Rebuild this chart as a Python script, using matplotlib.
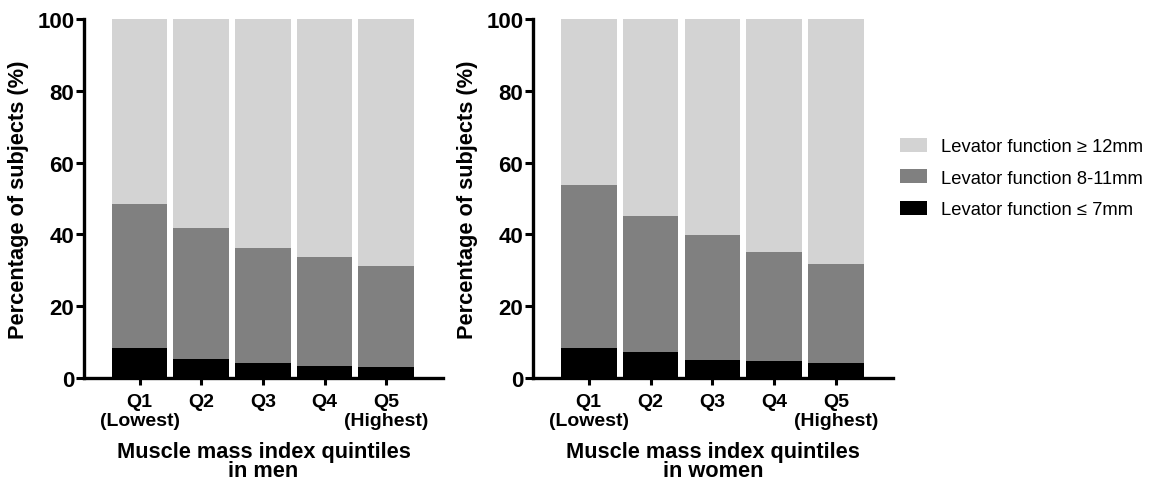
import matplotlib
matplotlib.use("Agg")
import matplotlib.pyplot as plt
from matplotlib.patches import Patch
import numpy as np

categories = ["Q1\n(Lowest)", "Q2", "Q3", "Q4", "Q5\n(Highest)"]
men_low = [8.3, 5.4, 4.3, 3.4, 3.1]          # <= 7mm (cumulative top)
men_mid_top = [48.6, 41.8, 36.1, 33.8, 31.2]  # 8-11mm top
women_low = [8.4, 7.3, 5.0, 4.8, 4.3]
women_mid_top = [53.8, 45.1, 39.9, 35.1, 31.7]
legend_labels = ["Levator function \u2265 12mm", "Levator function 8-11mm", "Levator function \u2264 7mm"]
xlabels = ["Muscle mass index quintiles\nin men", "Muscle mass index quintiles\nin women"]

c_light, c_mid, c_dark = "#d3d3d3", "#808080", "#000000"

plt.rcParams['font.family'] = ['Liberation Sans', 'DejaVu Sans']

fig = plt.figure(figsize=(11.58, 4.81), dpi=100)
W, H = 1158, 481
ax1 = fig.add_axes([84 / W, 1 - 379 / H, 359 / W, 359 / H])
ax2 = fig.add_axes([533 / W, 1 - 379 / H, 360 / W, 359 / H])

x = np.arange(1, 6)
for ax, low, midtop, xl in [(ax1, men_low, men_mid_top, xlabels[0]),
                            (ax2, women_low, women_mid_top, xlabels[1])]:
    low = np.array(low)
    midtop = np.array(midtop)
    ax.bar(x, low, width=0.9, color=c_dark, linewidth=0)
    ax.bar(x, midtop - low, bottom=low, width=0.9, color=c_mid, linewidth=0)
    ax.bar(x, 100 - midtop, bottom=midtop, width=0.9, color=c_light, linewidth=0)
    ax.set_xlim(0.1, 5.92)
    ax.set_ylim(0, 100)
    ax.set_yticks([0, 20, 40, 60, 80, 100])
    ax.set_xticks(x)
    ax.set_xticklabels(categories, fontsize=14, fontweight='bold', linespacing=1.1)
    ax.tick_params(axis='y', labelsize=16, width=2.2, length=6, pad=1)
    for lab in ax.get_yticklabels():
        lab.set_fontweight('bold')
    ax.tick_params(axis='x', width=2.2, length=5, pad=6)
    for s in ['top', 'right']:
        ax.spines[s].set_visible(False)
    for s in ['left', 'bottom']:
        ax.spines[s].set_linewidth(2.4)
    ax.set_ylabel("Percentage of subjects (%)", fontsize=15.7, fontweight='bold', labelpad=6)
    ax.set_xlabel(xl, fontsize=15.7, fontweight='bold', labelpad=9, linespacing=0.88)

handles = [Patch(facecolor=c_light), Patch(facecolor=c_mid), Patch(facecolor=c_dark)]
fig.legend(handles, legend_labels, loc='center left', bbox_to_anchor=(883 / W, 1 - 179 / H),
           frameon=False, fontsize=13.2, handlelength=1.5, handleheight=0.8,
           labelspacing=0.78, handletextpad=0.75)

fig.savefig("out.png", dpi=100)
